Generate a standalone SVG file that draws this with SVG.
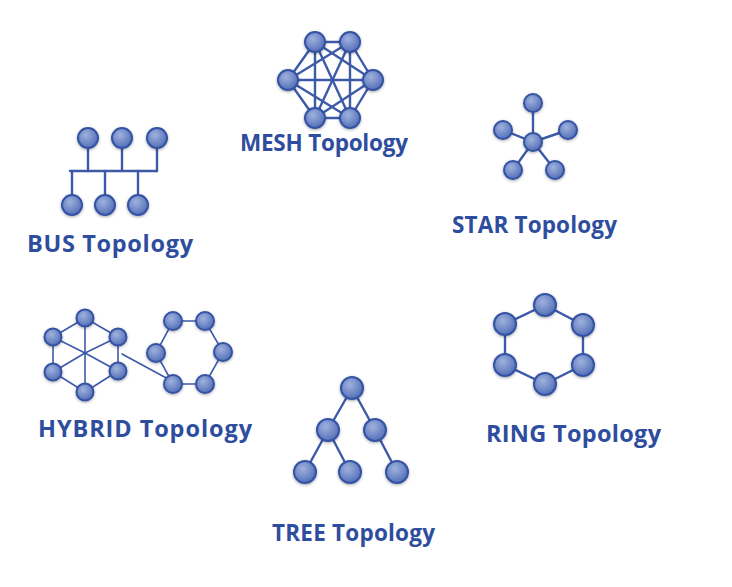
<svg xmlns="http://www.w3.org/2000/svg" width="732" height="587" viewBox="0 0 732 587">
<defs>
<radialGradient id="ng" cx="0.4" cy="0.35" r="0.7">
<stop offset="0" stop-color="#9fb1dd"/>
<stop offset="1" stop-color="#4f6cb6"/>
</radialGradient>
<filter id="sh" x="-30%" y="-30%" width="160%" height="160%">
<feGaussianBlur in="SourceAlpha" stdDeviation="1.5"/>
<feOffset dy="1"/>
<feComponentTransfer><feFuncA type="linear" slope="0.35"/></feComponentTransfer>
<feMerge><feMergeNode/><feMergeNode in="SourceGraphic"/></feMerge>
</filter>
</defs>
<style>
.n{fill:url(#ng);stroke:#3452a4;stroke-width:2;filter:url(#sh)}
.e{stroke:#3d5aa9;stroke-width:2.4;fill:none;stroke-linecap:round}
.t{font-family:"Open Sans","Noto Sans",sans-serif;font-weight:700;font-size:22.5px;fill:#2e4d9e;text-anchor:start}
</style>
<rect width="732" height="587" fill="#ffffff"/>

<!-- MESH -->
<g id="mesh">
<g id="mesh-edges" class="e">
<line x1="315" y1="42" x2="350" y2="42"/><line x1="315" y1="42" x2="288" y2="80"/><line x1="315" y1="42" x2="373" y2="80"/><line x1="315" y1="42" x2="315" y2="118"/><line x1="315" y1="42" x2="350" y2="118"/>
<line x1="350" y1="42" x2="288" y2="80"/><line x1="350" y1="42" x2="373" y2="80"/><line x1="350" y1="42" x2="315" y2="118"/><line x1="350" y1="42" x2="350" y2="118"/>
<line x1="288" y1="80" x2="373" y2="80"/><line x1="288" y1="80" x2="315" y2="118"/><line x1="288" y1="80" x2="350" y2="118"/>
<line x1="373" y1="80" x2="315" y2="118"/><line x1="373" y1="80" x2="350" y2="118"/>
<line x1="315" y1="118" x2="350" y2="118"/>
</g>
<g id="mesh-n1"><circle class="n" cx="315" cy="42" r="10"/></g>
<g id="mesh-n2"><circle class="n" cx="350" cy="42" r="10"/></g>
<g id="mesh-n3"><circle class="n" cx="288" cy="80" r="10"/></g>
<g id="mesh-n4"><circle class="n" cx="373" cy="80" r="10"/></g>
<g id="mesh-n5"><circle class="n" cx="315" cy="118" r="10"/></g>
<g id="mesh-n6"><circle class="n" cx="350" cy="118" r="10"/></g>
<text class="t" x="240" y="151" textLength="168">MESH Topology</text>
</g>

<!-- STAR -->
<g id="star">
<g id="star-edges" class="e">
<line x1="533" y1="142" x2="533" y2="103"/><line x1="533" y1="142" x2="503" y2="130"/><line x1="533" y1="142" x2="568" y2="130"/><line x1="533" y1="142" x2="513" y2="170"/><line x1="533" y1="142" x2="555" y2="170"/>
</g>
<g id="star-hub"><circle class="n" cx="533" cy="142" r="9"/></g>
<g id="star-n1"><circle class="n" cx="533" cy="103" r="9"/></g>
<g id="star-n2"><circle class="n" cx="503" cy="130" r="9"/></g>
<g id="star-n3"><circle class="n" cx="568" cy="130" r="9"/></g>
<g id="star-n4"><circle class="n" cx="513" cy="170" r="9"/></g>
<g id="star-n5"><circle class="n" cx="555" cy="170" r="9"/></g>
<text class="t" x="452" y="233" textLength="165">STAR Topology</text>
</g>

<!-- BUS -->
<g id="bus">
<g id="bus-edges" class="e">
<line x1="70" y1="171" x2="157" y2="171"/>
<line x1="88" y1="138" x2="88" y2="171"/><line x1="122" y1="138" x2="122" y2="171"/><line x1="157" y1="138" x2="157" y2="171"/>
<line x1="72" y1="171" x2="72" y2="205"/><line x1="105" y1="171" x2="105" y2="205"/><line x1="138" y1="171" x2="138" y2="205"/>
</g>
<g id="bus-n1"><circle class="n" cx="88" cy="138" r="10"/></g>
<g id="bus-n2"><circle class="n" cx="122" cy="138" r="10"/></g>
<g id="bus-n3"><circle class="n" cx="157" cy="138" r="10"/></g>
<g id="bus-n4"><circle class="n" cx="72" cy="205" r="10"/></g>
<g id="bus-n5"><circle class="n" cx="105" cy="205" r="10"/></g>
<g id="bus-n6"><circle class="n" cx="138" cy="205" r="10"/></g>
<text class="t" x="27" y="252" textLength="166" style="font-size:23.5px">BUS Topology</text>
</g>

<!-- HYBRID -->
<g id="hybrid">
<g id="hybrid-edges" class="e" style="stroke-width:1.6">
<line x1="85" y1="353" x2="85" y2="318"/><line x1="85" y1="353" x2="53" y2="337"/><line x1="85" y1="353" x2="118" y2="337"/><line x1="85" y1="353" x2="53" y2="372"/><line x1="85" y1="353" x2="118" y2="371"/><line x1="85" y1="353" x2="85" y2="392"/>
<polygon points="85,318 118,337 118,371 85,392 53,372 53,337"/>
<polygon points="173,321 205,321 223,352 205,384 173,384 156,353"/>
<line x1="122" y1="354" x2="170" y2="380"/>
</g>
<g id="hybrid-n1"><circle class="n" cx="85" cy="318" r="8.5"/></g>
<g id="hybrid-n2"><circle class="n" cx="118" cy="337" r="8.5"/></g>
<g id="hybrid-n3"><circle class="n" cx="118" cy="371" r="8.5"/></g>
<g id="hybrid-n4"><circle class="n" cx="85" cy="392" r="8.5"/></g>
<g id="hybrid-n5"><circle class="n" cx="53" cy="372" r="8.5"/></g>
<g id="hybrid-n6"><circle class="n" cx="53" cy="337" r="8.5"/></g>
<g id="hybrid-n7"><circle class="n" cx="173" cy="321" r="9"/></g>
<g id="hybrid-n8"><circle class="n" cx="205" cy="321" r="9"/></g>
<g id="hybrid-n9"><circle class="n" cx="223" cy="352" r="9"/></g>
<g id="hybrid-n10"><circle class="n" cx="205" cy="384" r="9"/></g>
<g id="hybrid-n11"><circle class="n" cx="173" cy="384" r="9"/></g>
<g id="hybrid-n12"><circle class="n" cx="156" cy="353" r="9"/></g>
<text class="t" x="38" y="437" textLength="214" style="font-size:23.5px">HYBRID Topology</text>
</g>

<!-- RING -->
<g id="ring">
<g id="ring-edges" class="e">
<polygon points="545,305 583,325 583,365 545,384 505,365 505,324"/>
</g>
<g id="ring-n1"><circle class="n" cx="545" cy="305" r="11"/></g>
<g id="ring-n2"><circle class="n" cx="583" cy="325" r="11"/></g>
<g id="ring-n3"><circle class="n" cx="583" cy="365" r="11"/></g>
<g id="ring-n4"><circle class="n" cx="545" cy="384" r="11"/></g>
<g id="ring-n5"><circle class="n" cx="505" cy="365" r="11"/></g>
<g id="ring-n6"><circle class="n" cx="505" cy="324" r="11"/></g>
<text class="t" x="486" y="442" textLength="175" style="font-size:23.5px">RING Topology</text>
</g>

<!-- TREE -->
<g id="tree">
<g id="tree-edges" class="e">
<line x1="352" y1="388" x2="328" y2="430"/><line x1="352" y1="388" x2="375" y2="430"/>
<line x1="328" y1="430" x2="305" y2="472"/><line x1="328" y1="430" x2="350" y2="472"/>
<line x1="375" y1="430" x2="397" y2="472"/>
</g>
<g id="tree-root"><circle class="n" cx="352" cy="388" r="11"/></g>
<g id="tree-n1"><circle class="n" cx="328" cy="430" r="11"/></g>
<g id="tree-n2"><circle class="n" cx="375" cy="430" r="11"/></g>
<g id="tree-n3"><circle class="n" cx="305" cy="472" r="11"/></g>
<g id="tree-n4"><circle class="n" cx="350" cy="472" r="11"/></g>
<g id="tree-n5"><circle class="n" cx="397" cy="472" r="11"/></g>
<text class="t" x="272" y="541" textLength="163">TREE Topology</text>
</g>
</svg>
